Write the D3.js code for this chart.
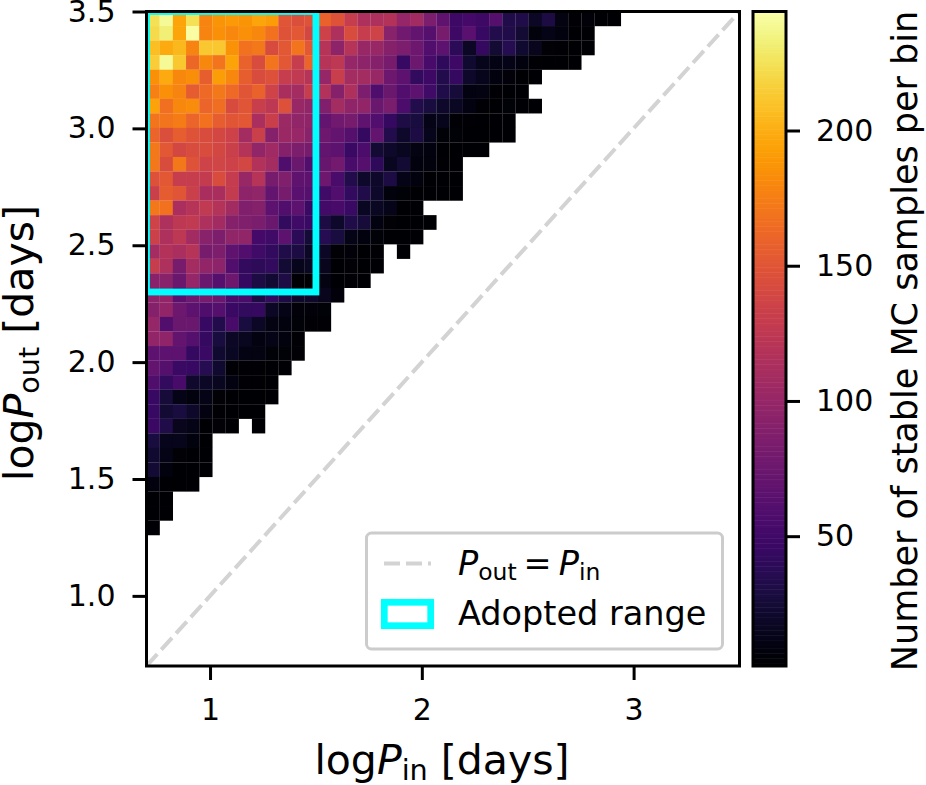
<!DOCTYPE html>
<html>
<head>
<meta charset="utf-8">
<style>
  html, body { margin: 0; padding: 0; background: #fff; }
  svg { display: block; font-family: "DejaVu Sans", sans-serif; }
  text { fill: #000; }
</style>
<script src="https://cdn.jsdelivr.net/npm/d3@7"></script>
</head>
<body>
<svg id="chart" width="926" height="785"></svg>
<script>
// Stable Monte Carlo sample counts per (logP_in, logP_out) bin.
// Rows run from the top of the plot downward, columns from the left; null = empty bin.
const counts = [
  [225,240,195,225,178,187,190,187,195,192,150,145,148,158,148,130,114,114,118,100,107,85,68,48,53,48,62,32,32,18,30,10,3,6,2,2],
  [222,232,195,243,178,185,180,185,180,168,148,152,140,135,114,143,130,136,92,78,70,62,82,48,64,45,34,32,24,7,12,8,2,2],
  [208,198,205,178,212,212,186,168,172,142,152,170,152,120,95,120,102,102,90,85,76,60,66,38,18,44,24,36,22,15,4,3,2,2],
  [215,240,212,162,180,170,194,158,143,170,152,130,160,120,124,100,95,90,82,45,75,54,40,48,22,14,11,12,8,3,2,2,2],
  [185,198,180,184,157,192,180,157,143,147,130,126,120,100,132,108,108,102,76,66,42,48,34,44,20,14,8,6,2,2],
  [176,185,178,155,163,172,163,150,158,136,112,108,130,117,90,114,85,58,74,60,66,50,32,26,9,10,3,2,2],
  [194,167,180,183,160,166,142,150,132,124,147,102,97,88,108,96,98,74,84,56,34,28,20,17,9,3,2,5,2,2],
  [170,170,174,160,168,156,150,152,113,132,104,97,96,70,78,82,68,60,44,31,28,12,14,3,3,2,2,2],
  [160,145,156,148,143,140,135,108,133,90,103,101,92,76,70,62,44,70,34,20,30,14,5,5,2,2,2,2],
  [172,152,140,143,143,140,133,119,97,106,90,86,82,70,66,46,56,24,20,16,10,8,2,2,2,2],
  [172,143,172,148,136,138,135,140,118,108,58,74,60,72,80,55,62,40,16,24,8,7,3,2],
  [147,152,130,130,128,143,129,102,120,82,88,68,66,76,55,34,20,20,30,12,8,2,2,2],
  [133,155,150,133,112,112,128,95,97,70,82,64,62,50,60,42,32,20,7,5,2,2,2,2],
  [172,168,113,120,126,119,107,88,90,66,60,66,46,52,54,46,17,17,13,2,2],
  [136,114,124,126,114,107,90,88,84,74,42,50,46,30,20,33,26,9,4,2,2,2],
  [134,114,124,107,92,86,97,97,53,50,66,38,25,36,28,12,8,5,2,2,2],
  [108,118,113,120,82,86,68,60,50,42,33,30,18,18,4,6,2,3,null,2],
  [130,114,82,108,98,95,60,42,39,42,24,14,17,15,2,4,2,2],
  [92,92,74,100,74,62,76,44,30,23,31,3,3,10,2,3,2],
  [95,98,65,75,82,74,55,55,30,42,30,20,20,15,6],
  [90,98,76,66,58,62,46,42,44,18,12,6,6,5],
  [100,60,74,74,45,34,54,28,18,10,8,5,3,3],
  [98,96,70,62,44,28,18,16,9,12,8,3],
  [66,66,66,44,46,22,17,11,10,5,5,3],
  [70,62,46,45,36,22,3,3,3,2,2],
  [58,42,54,21,18,16,9,3,3,2],
  [45,26,12,8,12,4,2,2,2,2],
  [45,24,28,20,9,3,2,2,2],
  [47,32,15,12,2,4,2,null,2],
  [28,14,14,8,2],
  [22,12,4,2,2],
  [24,8,2,2,2],
  [8,2,2,2],
  [2,2],
  [2,2],
  [2]
];

const binCount = 45;
const axisLimits = [0.7, 3.5];
const xTicks = [1, 2, 3];
const yTicks = [1.0, 1.5, 2.0, 2.5, 3.0, 3.5];
const colorTicks = [50, 100, 150, 200];
const colorLimits = [2, 244];
const adoptedIn = [0.7, 1.5];
const adoptedOut = [2.3, 3.5];

const plot = { left: 146.5, right: 739.5, top: 11.5, bottom: 666 };
const bar = { left: 753, right: 786, top: 11.5, bottom: 666 };
const tickFont = 30, labelFont = 41;
const spineWidth = 3;

const svg = d3.select("#chart");
const x = d3.scaleLinear().domain(axisLimits).range([plot.left, plot.right]);
const y = d3.scaleLinear().domain(axisLimits).range([plot.bottom, plot.top]);
const color = d3.scaleSequential(d3.interpolateInferno).domain(colorLimits);
const binWidth = (axisLimits[1] - axisLimits[0]) / binCount;

// Everything drawn in data space stays inside the axes.
svg.append("clipPath").attr("id", "plot-area").append("rect")
  .attr("x", plot.left).attr("y", plot.top)
  .attr("width", plot.right - plot.left).attr("height", plot.bottom - plot.top);
const dataLayer = svg.append("g").attr("clip-path", "url(#plot-area)");

// Heat map: one rect per occupied bin, top row first. The slight overlap keeps the seams faint.
const overlap = 0.15;
const cells = counts.flatMap((row, r) =>
  row.map((v, c) => ({ r, c, v })).filter(d => d.v !== null));
dataLayer.append("g").selectAll("rect").data(cells).join("rect")
  .attr("x", d => x(axisLimits[0] + d.c * binWidth))
  .attr("width", d => x(axisLimits[0] + (d.c + 1) * binWidth) - x(axisLimits[0] + d.c * binWidth) + overlap)
  .attr("y", d => y(axisLimits[1] - d.r * binWidth))
  .attr("height", d => y(axisLimits[1] - (d.r + 1) * binWidth) - y(axisLimits[1] - d.r * binWidth) + overlap)
  .attr("fill", d => color(d.v));

// Identity line.
dataLayer.append("line")
  .attr("x1", x(axisLimits[0])).attr("y1", y(axisLimits[0]))
  .attr("x2", x(axisLimits[1])).attr("y2", y(axisLimits[1]))
  .attr("stroke", "#d3d3d3").attr("stroke-width", 4)
  .attr("stroke-dasharray", "16 6");

// Adopted period range.
dataLayer.append("rect")
  .attr("x", x(adoptedIn[0])).attr("y", y(adoptedOut[1]))
  .attr("width", x(adoptedIn[1]) - x(adoptedIn[0]))
  .attr("height", y(adoptedOut[0]) - y(adoptedOut[1]))
  .attr("fill", "none").attr("stroke", "#00ffff").attr("stroke-width", 6.8);

// Spines and axes.
function frame(b) {
  svg.append("rect")
    .attr("x", b.left).attr("y", b.top)
    .attr("width", b.right - b.left).attr("height", b.bottom - b.top)
    .attr("fill", "none").attr("stroke", "#000").attr("stroke-width", spineWidth);
}
function styleAxis(g) {
  g.select(".domain").remove();
  g.selectAll(".tick line").attr("stroke", "#000").attr("stroke-width", spineWidth);
  g.selectAll(".tick text").attr("fill", "#000").attr("font-size", tickFont)
    .attr("font-family", '"DejaVu Sans", sans-serif');
}
frame(plot);

svg.append("g").attr("transform", `translate(0,${plot.bottom})`)
  .call(d3.axisBottom(x).tickValues(xTicks).tickFormat(d3.format("d")).tickSize(14).tickPadding(19))
  .call(styleAxis);
svg.append("g").attr("transform", `translate(${plot.left},0)`)
  .call(d3.axisLeft(y).tickValues(yTicks).tickFormat(d3.format(".1f")).tickSize(14).tickPadding(17))
  .call(styleAxis);

// Writes log P_sub [days] style labels with an italic P and a lowered subscript.
function periodLabel(t, sub, size) {
  t.attr("font-size", size);
  t.append("tspan").text("log");
  t.append("tspan").attr("font-style", "italic").text("P");
  t.append("tspan").attr("font-size", size * 0.7).attr("dy", size * 0.15).text(sub);
  t.append("tspan").attr("dy", -size * 0.15).text(" [days]");
}
svg.append("text").attr("x", 442).attr("y", 774).attr("text-anchor", "middle")
  .call(periodLabel, "in", labelFont);
svg.append("text").attr("text-anchor", "middle")
  .attr("transform", `translate(33,343) rotate(-90)`)
  .call(periodLabel, "out", labelFont);

// Colour bar.
const barScale = d3.scaleLinear().domain(colorLimits).range([bar.bottom, bar.top]);
const barSteps = d3.range(256).map(i => colorLimits[0] + (colorLimits[1] - colorLimits[0]) * i / 256);
const barStep = (colorLimits[1] - colorLimits[0]) / 256;
svg.append("g").selectAll("rect").data(barSteps).join("rect")
  .attr("x", bar.left).attr("width", bar.right - bar.left)
  .attr("y", d => barScale(d + barStep))
  .attr("height", d => barScale(d) - barScale(d + barStep) + 0.5)
  .attr("fill", d => color(d));
frame(bar);
svg.append("g").attr("transform", `translate(${bar.right},0)`)
  .call(d3.axisRight(barScale).tickValues(colorTicks).tickSize(14).tickPadding(16))
  .call(styleAxis);
svg.append("text").attr("text-anchor", "middle").attr("font-size", 35)
  .attr("transform", `translate(917,341) rotate(-90)`)
  .text("Number of stable MC samples per bin");

// Legend.
const legend = svg.append("g");
legend.append("rect").attr("x", 366.5).attr("y", 533).attr("width", 356).attr("height", 116)
  .attr("rx", 5).attr("fill", "#fff").attr("fill-opacity", 0.85)
  .attr("stroke", "#cccccc").attr("stroke-width", 3);
legend.append("line").attr("x1", 384).attr("x2", 431).attr("y1", 563.5).attr("y2", 563.5)
  .attr("stroke", "#d3d3d3").attr("stroke-width", 4).attr("stroke-dasharray", "16 6");
legend.append("rect").attr("x", 384.3).attr("y", 602.3).attr("width", 46.4).attr("height", 23.4)
  .attr("fill", "none").attr("stroke", "#00ffff").attr("stroke-width", 6.7);

const legendFont = 33.5;
const eq = legend.append("text").attr("x", 458).attr("y", 575).attr("font-size", legendFont);
eq.append("tspan").attr("font-style", "italic").text("P");
eq.append("tspan").attr("font-size", legendFont * 0.7).attr("dy", legendFont * 0.15).text("out");
eq.append("tspan").attr("dy", -legendFont * 0.15).attr("dx", 7).text("=");
eq.append("tspan").attr("dx", 7).attr("font-style", "italic").text("P");
eq.append("tspan").attr("font-size", legendFont * 0.7).attr("dy", legendFont * 0.15).text("in");
legend.append("text").attr("x", 458).attr("y", 625).attr("font-size", legendFont).text("Adopted range");
</script>
</body>
</html>
